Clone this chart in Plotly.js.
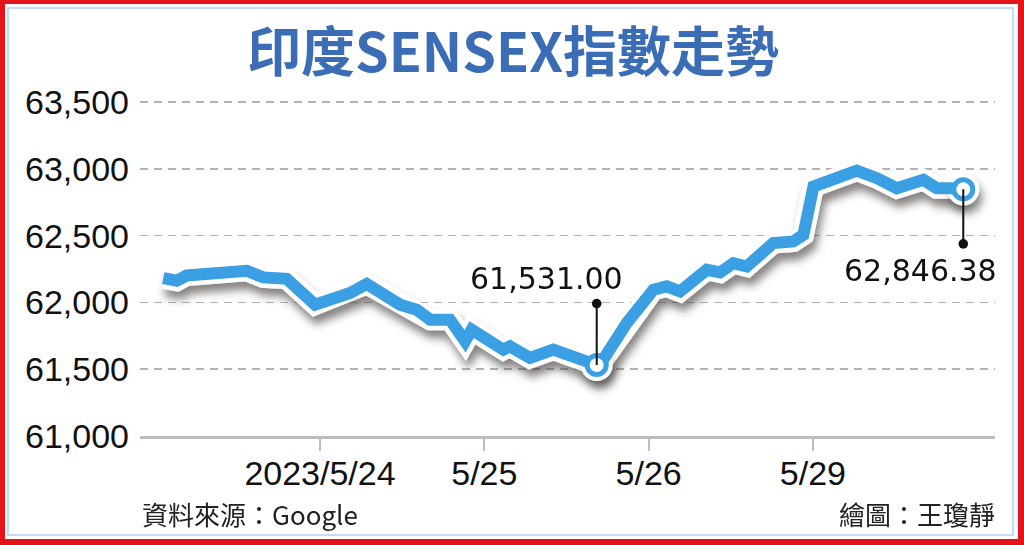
<!DOCTYPE html>
<html>
<head>
<meta charset="utf-8">
<script src="https://cdn.plot.ly/plotly-3.0.1.min.js"></script>
<style>
  html, body { margin: 0; padding: 0; background: #ffffff; }
  #frame { position: absolute; left: 0; top: 0; width: 1024px; height: 545px; box-sizing: border-box;
           border-style: solid; border-color: #e5141c; border-width: 4px 6px 6px 5px; }
  #inner { position: absolute; left: 7px; top: 7px; right: 10px; bottom: 9px; border: 2px solid #c3dcf2; }
  #chart { position: absolute; left: 0; top: 0; width: 1024px; height: 545px; }
</style>
</head>
<body>
<div id="frame"></div>
<div id="inner"></div>
<div id="chart"></div>
<script>
// ---- data (trading-day index: 0 = 5/23, 1 = 5/24, 2 = 5/25, 3 = 5/26, 4 = 5/29) ----
const tradingTime = [0.046, 0.128, 0.189, 0.371, 0.554, 0.655, 0.797, 0.970, 1.102, 1.183,
                     1.284, 1.365, 1.487, 1.589, 1.670, 1.791, 1.883, 1.923, 1.994, 2.116,
                     2.156, 2.278, 2.420, 2.542, 2.613, 2.684, 2.724, 2.867, 3.029, 3.110,
                     3.191, 3.354, 3.435, 3.516, 3.597, 3.759, 3.881, 3.942, 4.003, 4.084,
                     4.267, 4.389, 4.510, 4.672, 4.753, 4.834, 4.915];
const sensex = [62182, 62162, 62202, 62212, 62237, 62187, 62177, 61983, 62037, 62070,
                62138, 62082, 61983, 61945, 61871, 61871, 61709, 61796, 61746, 61646,
                61671, 61584, 61646, 61596, 61567, 61531.00, 61572, 61846, 62095, 62120,
                62082, 62244, 62224, 62294, 62269, 62444, 62456, 62506, 62867, 62904,
                62987, 62930, 62855, 62917, 62855, 62855, 62846.38];
const dayTicks = [1, 2, 3, 4];
const dayLabels = ['2023/5/24', '5/25', '5/26', '5/29'];
const yTicks = [61000, 61500, 62000, 62500, 63000, 63500];
const titleText = '印度SENSEX指數走勢';
const sourceText = '資料來源：Google';
const creditText = '繪圖：王瓊靜';

// ---- derived highlight points ----
let minIdx = 0;
sensex.forEach((v, i) => { if (v < sensex[minIdx]) minIdx = i; });
const lastIdx = sensex.length - 1;
const hiX = [tradingTime[minIdx], tradingTime[lastIdx]];
const hiY = [sensex[minIdx], sensex[lastIdx]];
const fmt = v => v.toLocaleString('en-US', { minimumFractionDigits: 2, maximumFractionDigits: 2 });

const blue = '#3b9fe3';
const traces = [
  { x: tradingTime, y: sensex, mode: 'lines', line: { color: '#ffffff', width: 21, shape: 'linear' }, hoverinfo: 'skip' },
  { x: hiX, y: hiY, mode: 'markers', marker: { size: 32, color: '#ffffff' }, hoverinfo: 'skip' },
  { x: tradingTime, y: sensex, mode: 'lines', line: { color: blue, width: 12 }, hoverinfo: 'skip' },
  { x: hiX, y: hiY, mode: 'markers', marker: { size: 19, color: '#ffffff', line: { color: blue, width: 5 } }, hoverinfo: 'skip' }
];

const numFont = { family: 'DejaVu Sans, sans-serif', size: 30, color: '#111111' };
const annotations = [
  // leader lines with dot at the far end
  { x: hiX[0], y: hiY[0], text: '', showarrow: true, ax: 0, ay: -63, arrowside: 'start',
    startarrowhead: 6, startarrowsize: 1.2, arrowwidth: 2, arrowcolor: '#111111', standoff: 0, startstandoff: 0 },
  { x: hiX[1], y: hiY[1], text: '', showarrow: true, ax: 0, ay: 56, arrowside: 'start',
    startarrowhead: 6, startarrowsize: 1.2, arrowwidth: 2, arrowcolor: '#111111', standoff: 0, startstandoff: 0 },
  { x: hiX[0], y: hiY[0], text: fmt(hiY[0]), showarrow: false, xshift: -50, yshift: 87, font: numFont },
  { x: hiX[1], y: hiY[1], text: fmt(hiY[1]), showarrow: false, xshift: -43, yshift: -81, font: numFont },
  { xref: 'paper', yref: 'paper', x: 0, y: -0.23, xanchor: 'left', yanchor: 'middle', text: sourceText,
    showarrow: false, font: { family: 'Noto Sans CJK TC, sans-serif', size: 26, color: '#222222' } },
  { xref: 'paper', yref: 'paper', x: 1.002, y: -0.23, xanchor: 'right', yanchor: 'middle', text: creditText,
    showarrow: false, font: { family: 'Noto Sans CJK TC, sans-serif', size: 26, color: '#222222' } }
];

const layout = {
  width: 1024, height: 545,
  margin: { l: 140, r: 29, t: 98, b: 109 },
  paper_bgcolor: 'rgba(0,0,0,0)', plot_bgcolor: 'rgba(0,0,0,0)',
  showlegend: false, hovermode: false,
  title: { text: titleText, xref: 'container', yref: 'container', x: 0.501, y: 0.902, xanchor: 'center', yanchor: 'middle',
           font: { family: 'Noto Sans CJK TC, sans-serif', size: 54, color: '#3b6db6', weight: 'bold' } },
  xaxis: {
    range: [-0.0955, 5.108], tickmode: 'array', tickvals: dayTicks, ticktext: dayLabels,
    showgrid: false, zeroline: false, showline: true, linecolor: '#bdbdbd', linewidth: 3,
    ticks: 'outside', ticklen: 12, tickwidth: 2, tickcolor: '#bdbdbd', ticklabelstandoff: -7,
    tickfont: { family: 'Liberation Sans, Arial, sans-serif', size: 34, color: '#111111' }
  },
  yaxis: {
    range: [61000, 63530], tickmode: 'array', tickvals: yTicks, tickformat: ',d',
    showgrid: true, gridcolor: '#b3b3b3', gridwidth: 1.5, griddash: '8px,6px',
    zeroline: false, showline: false, ticks: '', ticklabelstandoff: 10,
    tickfont: { family: 'Liberation Sans, Arial, sans-serif', size: 34, color: '#111111' }
  },
  annotations: annotations
};

const gd = document.getElementById('chart');
Plotly.newPlot(gd, traces, layout, { staticPlot: true, displayModeBar: false }).then(() => {
  const NS = 'http://www.w3.org/2000/svg';
  const svg = gd.querySelector('svg.main-svg');
  let defs = svg.querySelector('defs');
  if (!defs) { defs = document.createElementNS(NS, 'defs'); svg.insertBefore(defs, svg.firstChild); }
  const f = document.createElementNS(NS, 'filter');
  f.setAttribute('id', 'lineShadow');
  f.setAttribute('x', '-10%'); f.setAttribute('y', '-30%');
  f.setAttribute('width', '120%'); f.setAttribute('height', '160%');
  f.innerHTML = '<feGaussianBlur in="SourceAlpha" stdDeviation="4" result="b"/>' +
                '<feOffset in="b" dx="3" dy="8" result="o"/>' +
                '<feFlood flood-color="#3a3330" flood-opacity="0.6" result="c"/>' +
                '<feComposite in="c" in2="o" operator="in" result="s"/>' +
                '<feMerge><feMergeNode in="s"/><feMergeNode in="SourceGraphic"/></feMerge>';
  defs.appendChild(f);
  const groups = gd.querySelectorAll('.scatterlayer .trace');
  if (groups[0]) groups[0].setAttribute('filter', 'url(#lineShadow)');
  if (groups[1]) groups[1].setAttribute('filter', 'url(#lineShadow)');
});
</script>
</body>
</html>
